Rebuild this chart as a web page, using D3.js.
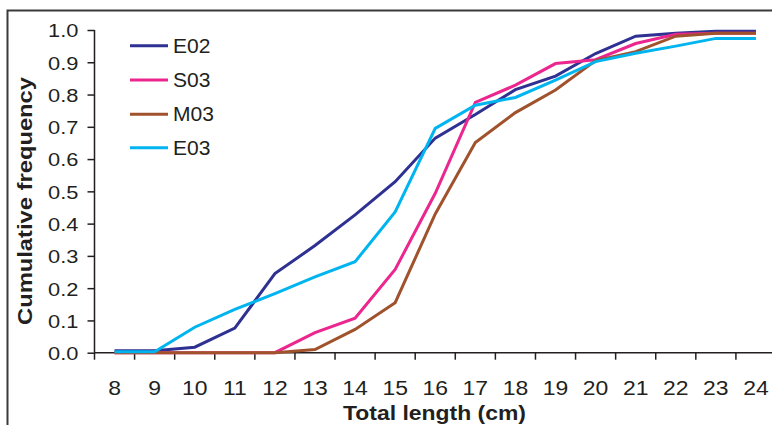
<!DOCTYPE html>
<html>
<head>
<meta charset="utf-8">
<script src="https://cdn.jsdelivr.net/npm/d3@7"></script>
<style>
  html, body { margin: 0; padding: 0; background: #fff; }
  svg { display: block; }
  text { font-family: "Liberation Sans", Arial, sans-serif; fill: #231f20; }
</style>
</head>
<body>
<svg id="chart" width="772" height="425"></svg>
<script>
const categories = [8, 9, 10, 11, 12, 13, 14, 15, 16, 17, 18, 19, 20, 21, 22, 23, 24];
const seriesNames = ["E02", "S03", "M03", "E03"];
const E02 = [0.006, 0.006, 0.017, 0.076, 0.245, 0.332, 0.427, 0.53, 0.665, 0.738, 0.815, 0.857, 0.927, 0.981, 0.99, 0.996, 0.996];
const S03 = [0.0, 0.0, 0.0, 0.0, 0.0, 0.062, 0.107, 0.258, 0.494, 0.776, 0.829, 0.896, 0.908, 0.958, 0.987, 0.99, 0.99];
const M03 = [0.0, 0.0, 0.0, 0.0, 0.0, 0.01, 0.072, 0.155, 0.43, 0.651, 0.744, 0.814, 0.905, 0.933, 0.981, 0.99, 0.99];
const E03 = [0.003, 0.003, 0.079, 0.134, 0.183, 0.235, 0.282, 0.436, 0.695, 0.767, 0.791, 0.845, 0.902, 0.928, 0.95, 0.974, 0.974];
const colors = ["#2e3192", "#ec268f", "#a0522d", "#00b5ef"];
const yTicks = [0, 0.1, 0.2, 0.3, 0.4, 0.5, 0.6, 0.7, 0.8, 0.9, 1.0];
const xTitle = "Total length (cm)";
const yTitle = "Cumulative frequency";

const seriesValues = [E02, S03, M03, E03];

const svg = d3.select("#chart");

// outer frame
svg.append("rect")
  .attr("x", 7.5).attr("y", 10.5)
  .attr("width", 820).attr("height", 460)
  .attr("fill", "none").attr("stroke", "#3a3a3a").attr("stroke-width", 2);

const pLeft = 94.5, pRight = 776, pTop = 30, pBottom = 352.7;

const x = d3.scaleBand().domain(categories).range([pLeft, pRight]).padding(0);
const y = d3.scaleLinear().domain([0, 1]).range([pBottom, pTop]);

// Y axis
const yAxis = svg.append("g")
  .attr("transform", `translate(${pLeft},0)`)
  .call(d3.axisLeft(y).tickValues(yTicks).tickFormat(d3.format(".1f")).tickSize(7).tickPadding(0));
yAxis.select(".domain").attr("stroke", "#231f20").attr("stroke-width", 1.5).attr("d", `M0,${pTop}V${pBottom}`);
yAxis.selectAll(".tick line").attr("stroke", "#231f20").attr("stroke-width", 1.5);
yAxis.selectAll(".tick text")
  .attr("x", 0).attr("dy", "0.36em")
  .style("font-size", "19px")
  .attr("transform", "translate(-16,0) scale(1.15,1)")
  .attr("fill", "#231f20");

// X axis: baseline, boundary ticks, labels
const xg = svg.append("g");
xg.append("line")
  .attr("x1", pLeft).attr("x2", pRight).attr("y1", pBottom).attr("y2", pBottom)
  .attr("stroke", "#231f20").attr("stroke-width", 1.5);
const bounds = categories.map(c => x(c)).concat([x(categories[categories.length - 1]) + x.bandwidth()]);
xg.selectAll("line.tk").data(bounds).enter().append("line")
  .attr("class", "tk")
  .attr("x1", d => d).attr("x2", d => d)
  .attr("y1", pBottom).attr("y2", pBottom + 7)
  .attr("stroke", "#231f20").attr("stroke-width", 1.5);
xg.selectAll("text.lbl").data(categories).enter().append("text")
  .attr("class", "lbl")
  .attr("transform", d => `translate(${x(d) + x.bandwidth() / 2},395) scale(1.12,1)`)
  .attr("text-anchor", "middle")
  .style("font-size", "20.5px")
  .text(d => d);

// Titles
svg.append("text")
  .attr("x", 434.5).attr("y", 420)
  .attr("text-anchor", "middle")
  .style("font-size", "21px").style("font-weight", "bold")
  .attr("textLength", 183).attr("lengthAdjust", "spacingAndGlyphs")
  .text(xTitle);

svg.append("text")
  .attr("transform", "translate(32,201) rotate(-90)")
  .attr("text-anchor", "middle")
  .style("font-size", "20px").style("font-weight", "bold")
  .attr("textLength", 248).attr("lengthAdjust", "spacingAndGlyphs")
  .text(yTitle);

// Lines
const line = d3.line()
  .x((d, i) => x(categories[i]) + x.bandwidth() / 2)
  .y(d => y(d));

svg.append("g").selectAll("path")
  .data(seriesValues)
  .enter().append("path")
  .attr("d", d => line(d))
  .attr("fill", "none")
  .attr("stroke", (d, i) => colors[i])
  .attr("stroke-width", 3)
  .attr("stroke-linejoin", "miter");

// Legend
const legendY = [45.7, 80, 114.3, 147.7];
const lg = svg.append("g");
seriesNames.forEach((name, i) => {
  lg.append("line")
    .attr("x1", 130).attr("x2", 168)
    .attr("y1", legendY[i]).attr("y2", legendY[i])
    .attr("stroke", colors[i]).attr("stroke-width", 3);
  lg.append("text")
    .attr("transform", `translate(173,${legendY[i]}) scale(1.08,1)`)
    .attr("dy", "0.36em")
    .style("font-size", "19.5px")
    .text(name);
});
</script>
</body>
</html>
